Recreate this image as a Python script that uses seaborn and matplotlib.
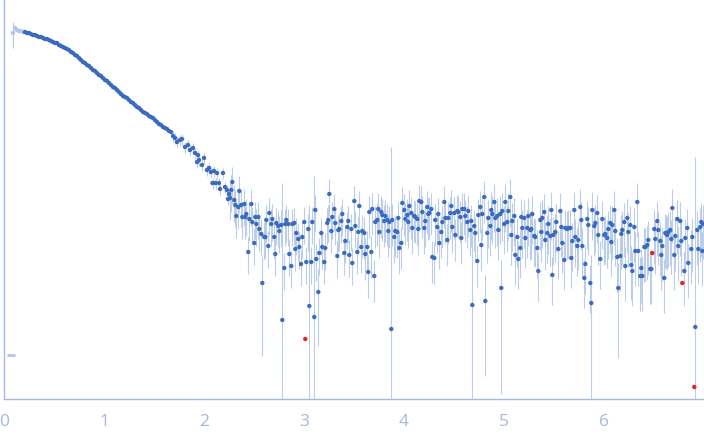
"""
SAXS scattering curve: log-intensity vs q, with error bars,
excluded low-q points (pale) and rejected outliers (red).
"""
import matplotlib

matplotlib.use("Agg")
import matplotlib.pyplot as plt
import numpy as np
import pandas as pd
import seaborn as sns
from matplotlib.ticker import NullLocator

# ───────────────────────── data ───────────────────────────────────────────────────
# q in nm^-1, intensities stored as log10(I)

# pale points at very low q (not used in the fit)
excluded_q = [0.09, 0.11, 0.13, 0.15, 0.17, 0.19]
excluded_logI = [-0.03, 0.02, 0.00, -0.01, -0.01, -0.02]
excluded_rel = [0.30, 0.05, 0.03, 0.03, 0.02, 0.02]
stray_q = [0.067]
stray_logI = [-3.25]

# smooth Guinier / mid-q part, evenly spaced
curve_q0, curve_dq = 0.21, 0.02
curve_logI = [
    -0.02, -0.03, -0.03, -0.04, -0.05, -0.05, -0.06, -0.07, -0.07, -0.08,
    -0.09, -0.09, -0.10, -0.11, -0.12, -0.13, -0.13, -0.15, -0.16, -0.17,
    -0.18, -0.19, -0.20, -0.22, -0.23, -0.25, -0.26, -0.28, -0.30, -0.32,
    -0.33, -0.35, -0.36, -0.38, -0.40, -0.41, -0.43, -0.45, -0.46, -0.48,
    -0.50, -0.51, -0.53, -0.55, -0.57, -0.58, -0.60, -0.62, -0.64, -0.66,
    -0.67, -0.68, -0.70, -0.72, -0.73, -0.75, -0.77, -0.78, -0.80, -0.82,
    -0.83, -0.84, -0.86, -0.87, -0.88, -0.90, -0.92, -0.94, -0.95, -0.97,
    -0.98, -0.99, -1.01, -1.02,
]

# noisier fall-off towards the background
trans_q = [
    1.69, 1.71, 1.73, 1.76, 1.78, 1.81, 1.84, 1.86, 1.89, 1.91,
    1.93, 1.94, 1.95, 1.98, 2.00, 2.03, 2.05, 2.07, 2.085, 2.10,
    2.115, 2.13, 2.15, 2.16, 2.19, 2.21, 2.23, 2.24, 2.25,
]
trans_logI = [
    -1.06, -1.08, -1.12, -1.10, -1.09, -1.17, -1.15, -1.20, -1.18, -1.23,
    -1.32, -1.25, -1.30, -1.35, -1.28, -1.40, -1.38, -1.42, -1.53, -1.41,
    -1.53, -1.43, -1.53, -1.59, -1.43, -1.57, -1.60, -1.69, -1.64,
]

# background plateau, four stretches
plat_a_q = [
    2.260, 2.273, 2.283, 2.303, 2.313, 2.323, 2.343, 2.353, 2.373, 2.383,
    2.403, 2.413, 2.423, 2.443, 2.453, 2.473, 2.483, 2.503, 2.513, 2.523,
    2.543, 2.553, 2.573, 2.583, 2.603, 2.613, 2.623, 2.643, 2.653, 2.673,
    2.683, 2.703, 2.713, 2.723, 2.743, 2.753, 2.773, 2.783, 2.803, 2.813,
    2.823, 2.843, 2.853, 2.873, 2.883, 2.903, 2.913, 2.923, 2.943, 2.953,
    2.970, 2.983, 3.003, 3.023, 3.043, 3.053, 3.073, 3.083, 3.103, 3.113,
    3.123, 3.143, 3.153, 3.173, 3.183, 3.203, 3.213, 3.233, 3.243, 3.253,
    3.273, 3.283, 3.303, 3.313, 3.333, 3.343, 3.353, 3.373, 3.383, 3.403,
    3.413, 3.433, 3.443, 3.453, 3.473, 3.483, 3.503, 3.513, 3.533, 3.543,
    3.553,
]
plat_a_logI = [
    -1.68, -1.60, -1.52, -1.70, -1.75, -1.86, -1.77, -1.61, -1.75, -1.87,
    -1.74, -1.87, -1.84, -2.22, -1.89, -1.74, -1.92, -2.13, -1.87, -1.94,
    -1.87, -1.99, -2.04, -2.53, -2.07, -2.07, -1.90, -2.16, -1.83, -1.94,
    -1.89, -2.07, -2.24, -1.93, -1.96, -2.01, -1.95, -2.90, -2.38, -1.94,
    -1.90, -1.94, -2.24, -2.36, -1.94, -1.93, -2.19, -2.03, -2.09, -2.17,
    -2.34, -2.07, -1.92, -2.32, -1.99, -2.76, -2.32, -1.92, -2.87, -1.80,
    -2.29, -2.62, -2.23, -2.03, -2.17, -2.32, -2.18, -1.93, -1.90, -1.64,
    -2.01, -1.87, -1.79, -1.93, -2.26, -2.00, -1.99, -1.91, -1.84, -2.23,
    -2.11, -1.97, -1.91, -2.25, -1.99, -2.33, -1.71, -1.96, -2.22, -2.02,
    -1.76,
]
plat_b_q = [
    3.573, 3.583, 3.603, 3.613, 3.633, 3.643, 3.653, 3.673, 3.683, 3.703,
    3.713, 3.733, 3.743, 3.753, 3.773, 3.783, 3.803, 3.813, 3.833, 3.843,
    3.853, 3.873, 3.883, 3.903, 3.913, 3.933, 3.943, 3.953, 3.973, 3.983,
    4.003, 4.013, 4.033, 4.043, 4.053, 4.073, 4.083, 4.103, 4.113, 4.133,
    4.143, 4.153, 4.173, 4.183, 4.203, 4.213, 4.233, 4.243, 4.253, 4.273,
    4.283, 4.303, 4.313, 4.333, 4.343, 4.353, 4.373, 4.383, 4.403, 4.413,
    4.433, 4.443, 4.463, 4.473, 4.483, 4.503, 4.513, 4.533, 4.543, 4.563,
    4.573, 4.583, 4.603, 4.613, 4.633, 4.643, 4.663, 4.673, 4.683, 4.703,
    4.713, 4.733, 4.743, 4.763, 4.773, 4.783, 4.803, 4.813,
]
plat_b_logI = [
    -2.17, -2.01, -2.03, -2.24, -2.17, -2.42, -1.82, -2.22, -1.79, -2.46,
    -1.92, -1.90, -1.79, -2.02, -1.82, -1.85, -1.91, -1.86, -1.90, -2.01,
    -1.92, -2.99, -1.90, -2.07, -2.01, -2.02, -1.88, -2.18, -2.13, -1.73,
    -1.80, -1.89, -1.85, -1.92, -1.76, -1.83, -1.98, -1.86, -1.87, -1.89,
    -1.99, -1.71, -1.72, -1.82, -1.98, -1.91, -1.77, -1.84, -1.83, -1.79,
    -2.27, -2.28, -1.90, -1.97, -1.84, -2.13, -2.02, -1.92, -1.72, -1.88,
    -2.10, -1.88, -1.83, -1.76, -1.97, -1.83, -2.05, -1.81, -1.82, -1.87,
    -2.08, -1.79, -1.79, -1.86, -1.92, -1.81, -2.00, -1.91, -2.75, -1.96,
    -2.03, -2.31, -1.85, -1.77, -2.15, -1.84, -1.67, -2.71,
]
plat_c_q = [
    4.833, 4.843, 4.863, 4.873, 4.883, 4.903, 4.913, 4.933, 4.943, 4.963,
    4.973, 4.983, 5.003, 5.013, 5.033, 5.043, 5.063, 5.073, 5.083, 5.103,
    5.113, 5.133, 5.143, 5.163, 5.173, 5.183, 5.203, 5.213, 5.233, 5.243,
    5.263, 5.273, 5.283, 5.303, 5.313, 5.333, 5.343, 5.363, 5.373, 5.383,
    5.403, 5.413, 5.433, 5.443, 5.463, 5.473, 5.483, 5.493, 5.513, 5.523,
    5.543, 5.563, 5.573, 5.583, 5.603, 5.613, 5.633, 5.643, 5.663, 5.673,
    5.683, 5.703, 5.713, 5.733, 5.743, 5.763, 5.773, 5.783, 5.803, 5.813,
    5.833, 5.843, 5.863, 5.873, 5.883, 5.903, 5.913, 5.933, 5.943, 5.963,
    5.983, 6.003, 6.013, 6.033, 6.043, 6.063,
]
plat_c_logI = [
    -2.03, -1.88, -1.96, -1.80, -1.84, -1.72, -1.88, -1.86, -2.00, -1.84,
    -2.58, -1.81, -1.94, -1.72, -1.92, -1.81, -1.67, -2.05, -1.91, -1.86,
    -2.25, -2.07, -2.29, -2.18, -1.87, -1.98, -1.88, -2.08, -1.98, -1.86,
    -2.00, -1.99, -1.84, -2.06, -2.07, -2.18, -2.41, -1.90, -2.02, -1.88,
    -1.82, -2.10, -2.03, -1.94, -2.06, -1.80, -2.45, -2.05, -2.02, -1.92,
    -2.19, -1.81, -1.97, -2.13, -2.30, -1.98, -1.99, -1.98, -1.98, -2.28,
    -2.11, -1.80, -2.07, -2.16, -2.10, -1.77, -1.90, -2.16, -2.48, -2.34,
    -1.89, -1.95, -2.53, -2.73, -1.80, -1.96, -1.93, -1.83, -2.05, -2.29,
    -1.89, -2.05, -2.04, -2.08, -1.99, -1.93,
]
plat_d_q = [
    6.073, 6.083, 6.103, 6.113, 6.133, 6.143, 6.163, 6.173, 6.183, 6.203,
    6.213, 6.233, 6.243, 6.263, 6.273, 6.283, 6.303, 6.313, 6.333, 6.343,
    6.363, 6.373, 6.383, 6.403, 6.413, 6.433, 6.443, 6.463, 6.473, 6.503,
    6.513, 6.533, 6.543, 6.563, 6.573, 6.583, 6.603, 6.613, 6.623, 6.633,
    6.643, 6.663, 6.673, 6.683, 6.703, 6.713, 6.733, 6.743, 6.763, 6.773,
    6.803, 6.813, 6.833, 6.843, 6.873, 6.883, 6.913, 6.933, 6.943, 6.963,
    6.973, 6.983, 6.993,
]
plat_d_logI = [
    -2.12, -1.95, -1.80, -2.01, -2.27, -2.58, -2.26, -2.04, -2.00, -1.92,
    -2.36, -1.88, -2.02, -1.95, -2.35, -2.41, -1.97, -2.21, -1.72, -2.21,
    -2.46, -2.38, -2.46, -2.17, -2.17, -2.15, -2.10, -2.39, -2.39, -1.99,
    -2.09, -1.91, -2.00, -2.11, -2.25, -2.16, -2.48, -2.03, -2.04, -2.05,
    -2.02, -2.00, -2.09, -1.78, -2.25, -2.06, -1.89, -2.16, -1.91, -2.11,
    -2.41, -2.08, -1.98, -2.33, -2.19, -2.07, -2.97, -2.00, -2.19, -1.97,
    -1.92, -2.21, -1.94,
]

# relative errors per stretch
curve_rel = 0.01
trans_rel = 0.12
plat_rel = [0.40, 0.45, 0.50, 0.55]

# points whose error bars are far larger than their neighbours (absolute sigma)
big_err_q = [2.583, 2.783, 3.053, 3.103, 3.143, 3.873, 4.683, 4.813, 4.973, 5.873, 6.143, 6.913]
big_err_sigma = [0.0024, 0.028, 0.016, 0.033, 0.0017, 0.067, 0.0094, 0.0016, 0.0024, 0.0037, 0.0021, 0.053]

# rejected outliers (red, no error bars)
outlier_q = [3.013, 6.483, 6.783, 6.903]
outlier_logI = [-3.09, -2.23, -2.53, -3.57]

# ───────────────────────── style ──────────────────────────
POINT_COLOR = "#3a6bc0"
PALE_COLOR = "#b3c6e7"
ERR_COLOR = "#bccde9"
OUTLIER_COLOR = "#e4231f"
AXIS_COLOR = "#a6b8de"


def _frame(q, logI, rel, kind: str) -> pd.DataFrame:
    inten = 10.0 ** np.asarray(logI, dtype=float)
    return pd.DataFrame({"q": np.asarray(q, dtype=float), "I": inten,
                         "sigma": np.asarray(rel) * inten, "kind": kind})


def build_data() -> pd.DataFrame:
    curve_q = curve_q0 + curve_dq * np.arange(len(curve_logI))
    parts = [
        _frame(excluded_q, excluded_logI, excluded_rel, "excluded"),
        _frame(curve_q, curve_logI, curve_rel, "used"),
        _frame(trans_q, trans_logI, trans_rel, "used"),
    ]
    plats = [(plat_a_q, plat_a_logI), (plat_b_q, plat_b_logI),
             (plat_c_q, plat_c_logI), (plat_d_q, plat_d_logI)]
    for (q, li), rel in zip(plats, plat_rel):
        parts.append(_frame(q, li, rel, "used"))
    parts.append(_frame(outlier_q, outlier_logI, 0.0, "outlier"))
    df = pd.concat(parts, ignore_index=True)

    for qo, so in zip(big_err_q, big_err_sigma):
        hit = (df["kind"] == "used") & (np.abs(df["q"] - qo) < 0.002)
        df.loc[hit, "sigma"] = so
    return df


def main() -> None:
    df = build_data()

    sns.set_style("white")
    plt.rcParams["font.family"] = ["Open Sans", "DejaVu Sans"]

    fig = plt.figure(figsize=(7.04, 4.37), dpi=100)
    ax = fig.add_axes([4 / 704, 38 / 437, 700 / 704, 399 / 437])
    ax.set_yscale("log")

    # error bars first, underneath the points
    for kind, color in (("used", ERR_COLOR), ("excluded", PALE_COLOR)):
        sub = df[df["kind"] == kind]
        lower = sub["I"] - np.maximum(sub["I"] - sub["sigma"], 1e-7)
        ax.errorbar(sub["q"], sub["I"], yerr=[lower, sub["sigma"]], fmt="none",
                    ecolor=color, elinewidth=0.8, capsize=0, zorder=1)

    sns.scatterplot(
        data=df, x="q", y="I", hue="kind",
        palette={"used": POINT_COLOR, "excluded": PALE_COLOR, "outlier": OUTLIER_COLOR},
        s=10, linewidth=0, legend=False, ax=ax, zorder=3,
    )
    ax.plot(stray_q, 10.0 ** np.asarray(stray_logI), ls="none", marker="_",
            ms=6, mew=2.0, color=PALE_COLOR, zorder=2)

    ax.set_xlim(0, 7)
    ax.set_ylim(10 ** -3.69, 10 ** 0.30)
    ax.set_xticks(range(0, 7))
    ax.set_yticks([1, 0.1, 0.01, 0.001])
    ax.set_yticklabels([])
    ax.yaxis.set_minor_locator(NullLocator())
    ax.set_xlabel("")
    ax.set_ylabel("")

    for side in ("top", "right"):
        ax.spines[side].set_visible(False)
    for side in ("left", "bottom"):
        ax.spines[side].set_color(AXIS_COLOR)
        ax.spines[side].set_linewidth(1.0)
    ax.tick_params(axis="both", which="major", direction="in", length=6, width=1,
                   color=AXIS_COLOR, labelcolor=AXIS_COLOR, labelsize=12.5)
    ax.tick_params(axis="x", pad=11)

    fig.savefig("out.png", dpi=100)
    plt.close(fig)


if __name__ == "__main__":
    main()
